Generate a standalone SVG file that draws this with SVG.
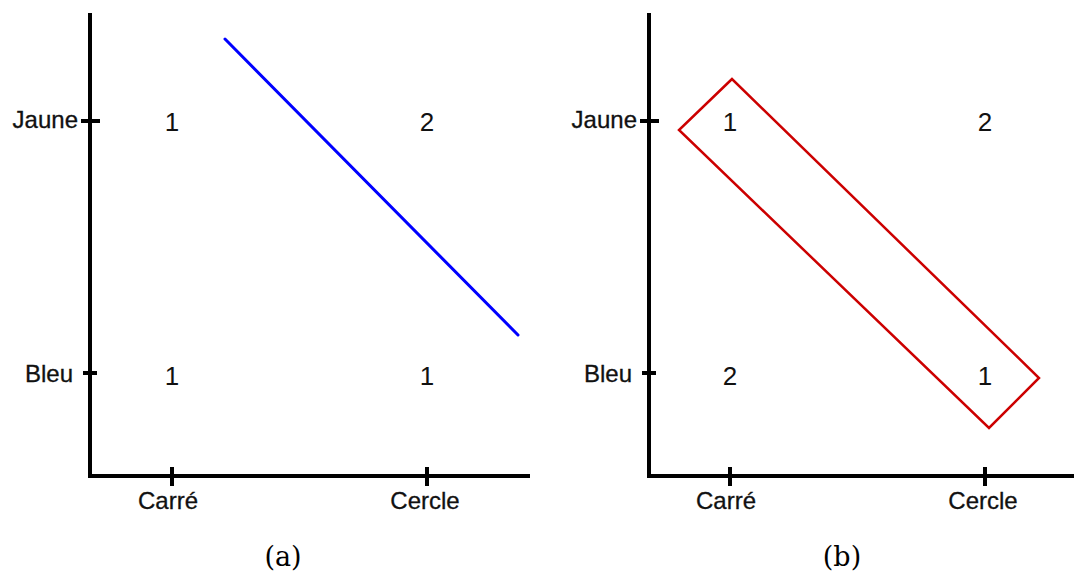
<svg xmlns="http://www.w3.org/2000/svg" width="1074" height="574" viewBox="0 0 1074 574">
<style>
.ax{stroke:#000;stroke-width:4;fill:none}
.tk{stroke:#000;stroke-width:4}
.lbl{font-family:"Liberation Sans",Arial,sans-serif;font-size:24px;fill:#111;stroke:#111;stroke-width:0.3}
.num{font-family:"Liberation Sans",Arial,sans-serif;font-size:26px;fill:#111;text-anchor:middle}
.cap{font-family:"DejaVu Serif",serif;font-size:27px;fill:#000;text-anchor:middle}
</style>
<rect width="1074" height="574" fill="#fff"/>
<g id="panel-a">
  <path class="ax" d="M90,13 V476 H530"/>
  <path class="tk" d="M81,121 H100 M83,373 H97 M172,467 V486 M427,467 V486"/>
  <text class="lbl" x="78" y="128" text-anchor="end">Jaune</text>
  <text class="lbl" x="73" y="382" text-anchor="end">Bleu</text>
  <text class="lbl" x="168" y="509" text-anchor="middle">Carré</text>
  <text class="lbl" x="425" y="509" text-anchor="middle">Cercle</text>
  <text class="num" x="172" y="131">1</text>
  <text class="num" x="427" y="131">2</text>
  <text class="num" x="172" y="385">1</text>
  <text class="num" x="427" y="385">1</text>
  <line x1="225" y1="39" x2="518" y2="335" stroke="#0000ff" stroke-width="3" stroke-linecap="round"/>
  <text class="cap" x="283" y="566">(a)</text>
</g>
<g id="panel-b">
  <path class="ax" d="M649,13 V476 H1076"/>
  <path class="tk" d="M640,121 H659 M642,373 H656 M730,467 V486 M985,467 V486"/>
  <text class="lbl" x="637" y="128" text-anchor="end">Jaune</text>
  <text class="lbl" x="632" y="382" text-anchor="end">Bleu</text>
  <text class="lbl" x="726" y="509" text-anchor="middle">Carré</text>
  <text class="lbl" x="983" y="509" text-anchor="middle">Cercle</text>
  <text class="num" x="730" y="131">1</text>
  <text class="num" x="985" y="131">2</text>
  <text class="num" x="730" y="385">2</text>
  <text class="num" x="985" y="385">1</text>
  <polygon points="732,79 679,130 989,428 1039,378" fill="none" stroke="#cc0000" stroke-width="2.5" stroke-linejoin="miter"/>
  <text class="cap" x="842" y="566">(b)</text>
</g>
</svg>
